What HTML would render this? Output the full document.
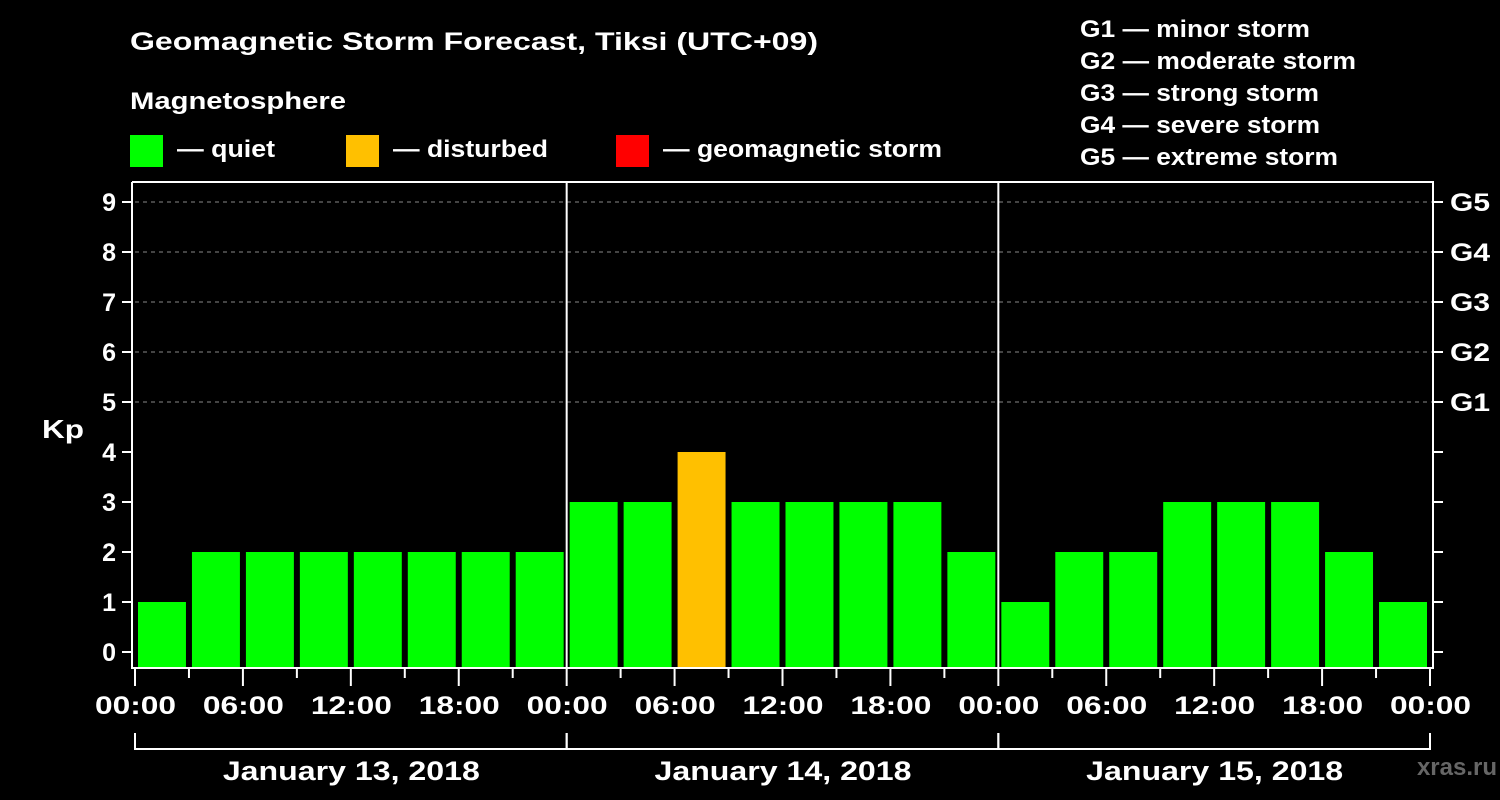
<!DOCTYPE html>
<html><head><meta charset="utf-8"><style>
body{margin:0;background:#000;}
svg{display:block;font-family:"Liberation Sans",Arial,sans-serif;font-weight:bold;}
text{font-family:"Liberation Sans",Arial,sans-serif;font-weight:bold;}
</style></head><body>
<svg width="1500" height="800" viewBox="0 0 1500 800">
<rect width="1500" height="800" fill="#000"/>
<text x="130" y="50" fill="#fff" font-size="25" textLength="688" lengthAdjust="spacingAndGlyphs">Geomagnetic Storm Forecast, Tiksi (UTC+09)</text>
<text x="130" y="109" fill="#fff" font-size="24" textLength="216" lengthAdjust="spacingAndGlyphs">Magnetosphere</text>
<rect x="130" y="135" width="33" height="32" fill="#00ff00"/>
<text x="177" y="157" fill="#fff" font-size="24" textLength="98" lengthAdjust="spacingAndGlyphs">— quiet</text>
<rect x="346" y="135" width="33" height="32" fill="#ffc000"/>
<text x="393" y="157" fill="#fff" font-size="24" textLength="155" lengthAdjust="spacingAndGlyphs">— disturbed</text>
<rect x="616" y="135" width="33" height="32" fill="#ff0000"/>
<text x="663" y="157" fill="#fff" font-size="24" textLength="279" lengthAdjust="spacingAndGlyphs">— geomagnetic storm</text>
<g fill="#fff" font-size="24">
<text x="1080" y="37" textLength="230" lengthAdjust="spacingAndGlyphs">G1 — minor storm</text>
<text x="1080" y="69" textLength="276" lengthAdjust="spacingAndGlyphs">G2 — moderate storm</text>
<text x="1080" y="101" textLength="239" lengthAdjust="spacingAndGlyphs">G3 — strong storm</text>
<text x="1080" y="133" textLength="240" lengthAdjust="spacingAndGlyphs">G4 — severe storm</text>
<text x="1080" y="165" textLength="258" lengthAdjust="spacingAndGlyphs">G5 — extreme storm</text>
</g>
<g id="grid"></g>
<g id="bars"></g>
<g id="axes"></g>
<text x="42" y="438" fill="#fff" font-size="26" textLength="42" lengthAdjust="spacingAndGlyphs">Kp</text>
<text x="1497" y="775" fill="#666" font-size="24" text-anchor="end">xras.ru</text>
</svg>
<script>
const kpValues=[1,2,2,2,2,2,2,2, 3,3,4,3,3,3,3,2, 1,2,2,3,3,3,2,1];
const dayLabels=["January 13, 2018","January 14, 2018","January 15, 2018"];
const hourLabels=["00:00","06:00","12:00","18:00"];
const yTicks=[0,1,2,3,4,5,6,7,8,9];
const gLabels=["G1","G2","G3","G4","G5"];
const NS="http://www.w3.org/2000/svg";
const px0=135,px1=1430,ptop=182,pbottom=668;
const slot=(px1-px0)/kpValues.length;
function yk(k){return 652-50*k;}
function xs(i){return px0+i*slot;}
function mk(t,a,parent){const e=document.createElementNS(NS,t);for(const k in a)e.setAttribute(k,a[k]);document.getElementById(parent).appendChild(e);return e;}
function color(k){return k>=5?"#ff0000":k>=4?"#ffc000":"#00ff00";}
yTicks.forEach(k=>{if(k>=5){const l=mk("line",{x1:px0,x2:1432,y1:yk(k),y2:yk(k),stroke:"#888","stroke-dasharray":"4,4","stroke-width":1},"grid");

}});
kpValues.forEach((v,i)=>{const r=mk("rect",{x:xs(i)+3,y:yk(v),width:slot-6,height:pbottom-yk(v),fill:color(v)},"bars");

});
const W="#fff";
let a=mk("path",{d:`M132,${ptop} V${pbottom} H1433 V${ptop} H132`,fill:"none",stroke:W,"stroke-width":2},"axes");


for(let d=1;d<dayLabels.length;d++){const xx=px0+d*8*slot;const l=mk("line",{x1:xx,x2:xx,y1:ptop,y2:pbottom,stroke:W,"stroke-width":2},"axes");

}
yTicks.forEach(k=>{const l=mk("line",{x1:122,x2:132,y1:yk(k),y2:yk(k),stroke:W,"stroke-width":2},"axes");


const t=mk("text",{x:116,y:yk(k)+9,fill:W,"font-size":25,"text-anchor":"end"},"axes");t.textContent=k;


const r=mk("line",{x1:1433,x2:1443,y1:yk(k),y2:yk(k),stroke:W,"stroke-width":2},"axes");


if(k>=5){const g=mk("text",{x:1450,y:yk(k)+9,fill:W,"font-size":25,textLength:40,lengthAdjust:"spacingAndGlyphs"},"axes");g.textContent=gLabels[k-5];

}});
for(let i=0;i<=kpValues.length;i++){const xx=xs(i);const major=i%2==0;
const l=mk("line",{x1:xx,x2:xx,y1:pbottom,y2:major?686:678,stroke:W,"stroke-width":2},"axes");


if(major){const t=mk("text",{x:xx-40,y:714,fill:W,"font-size":25,textLength:81,lengthAdjust:"spacingAndGlyphs"},"axes");t.textContent=hourLabels[(i/2)%4];

}}
dayLabels.forEach((d,i)=>{const a0=px0+i*8*slot,a1=a0+8*slot;
const p=mk("path",{d:`M${a0},733 V749 H${a1} V733`,fill:"none",stroke:W,"stroke-width":2},"axes");


const t=mk("text",{x:(a0+a1)/2-128,y:780,fill:W,"font-size":27,textLength:257,lengthAdjust:"spacingAndGlyphs"},"axes");t.textContent=d;

});
</script>
</body></html>
